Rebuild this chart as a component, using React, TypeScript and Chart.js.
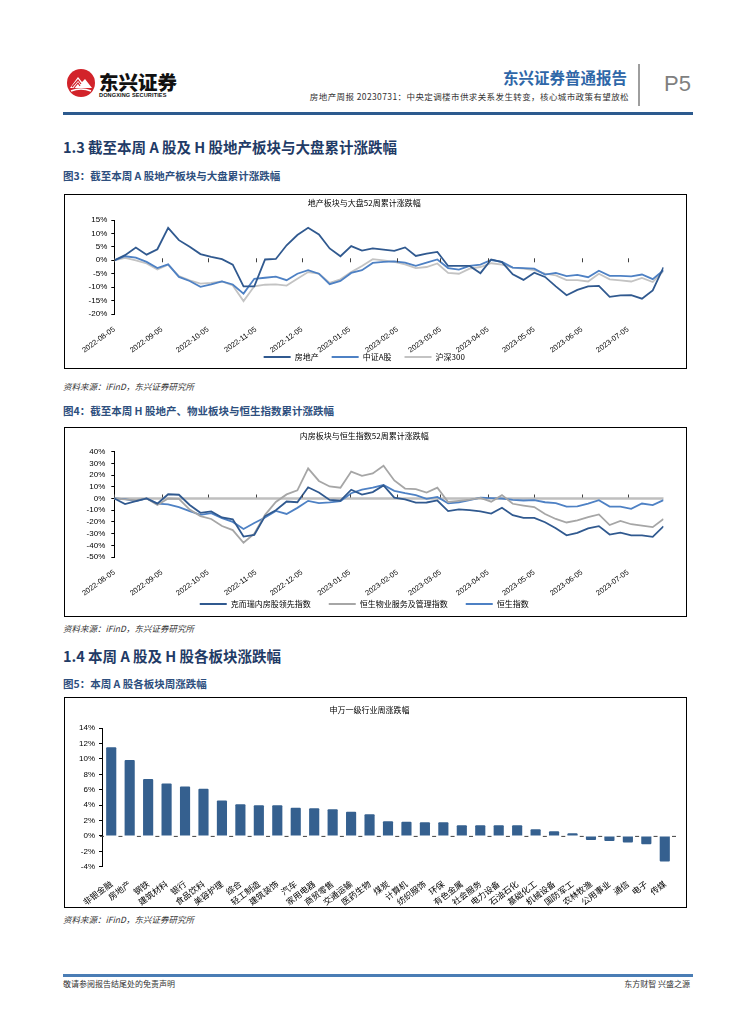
import React, { useEffect, useRef } from 'react';
import { Chart, registerables } from 'chart.js';

Chart.register(...registerables);

const CJK = '"Noto Sans CJK SC", "Noto Sans", sans-serif';
const LAT = '"Liberation Sans", Arial, sans-serif';

// ---------- shared x axis (weekly points, monthly tick labels) ----------
const monthTickDays = [0, 31, 61, 92, 122, 153, 184, 212, 243, 273, 304, 334];
const monthTickLabels = [
  '2022-08-05', '2022-09-05', '2022-10-05', '2022-11-05', '2022-12-05', '2023-01-05',
  '2023-02-05', '2023-03-05', '2023-04-05', '2023-05-05', '2023-06-05', '2023-07-05',
];
const lastDay = 357; // 2023-07-28

// ---------- chart 1: A-share (%, weekly cumulative) ----------
const realEstateA = [
  0, 1.9, 4.75, 2.1, 4.1, 12.1, 7.5, 5.0, 2.3, 1.3, 0.4, -1.6, -9.7, -9.7, 0.3, 0.5,
  5.6, 9.4, 12.1, 9.6, 4.4, 1.5, 5.3, 3.6, 4.4, 4.0, 3.5, 4.8, 1.6, 2.5, 3.1, -2.1,
  -2.1, -2.1, -4.8, 0.3, -0.7, -5.2, -7.3, -4.6, -6.2, -9.7, -13.0, -11.0, -9.7, -9.5,
  -13.6, -13.1, -13.0, -14.3, -11.2, -2.6,
];
const csiAShare = [
  0, 1.5, 1.0, -0.6, -2.9, -1.5, -6.2, -7.7, -9.9, -9.0, -7.9, -9.0, -12.4, -6.9, -6.5, -6.1,
  -7.4, -5.0, -3.7, -5.0, -8.9, -7.7, -4.7, -3.7, -1.0, -0.6, -0.4, -0.9, -2.1, -0.9, 0.3, -2.9,
  -3.5, -2.1, -1.6, 0.1, -0.6, -2.7, -2.9, -3.1, -5.3, -4.7, -5.9, -5.4, -6.3, -3.9,
  -5.8, -5.8, -6.0, -5.3, -7.0, -3.7,
];
const hs300 = [
  0, 0.9, 0, -1.2, -3.4, -1.6, -5.9, -7.5, -8.7, -8.4, -7.9, -9.4, -15.2, -9.7, -9.1, -9.0,
  -9.4, -6.9, -4.4, -5.0, -8.4, -7.1, -4.4, -2.1, 0.4, 0, -0.6, -1.5, -2.9, -2.5, -1.2, -4.7,
  -5.0, -3.1, -2.5, -1.1, -1.6, -2.7, -3.1, -3.7, -5.0, -5.6, -7.4, -7.4, -7.9, -5.0,
  -7.1, -7.5, -7.9, -6.6, -8.1, -4.0,
];
const chart1Y = [-20, -15, -10, -5, 0, 5, 10, 15];

// ---------- chart 2: H-share (%, weekly cumulative) ----------
const cricIndex = [
  0, -4.8, -2.3, 0, -4.4, 3.6, 3.2, -5.5, -12.2, -11.0, -16.2, -17.8, -32.5, -31.2, -15.0, -10.0,
  -2.6, -3.2, 9.6, 5.2, -1.2, -1.9, 7.5, 3.4, 5.5, 11.2, 0.8, -0.8, -3.5, -3.4, -1.7, -10.8,
  -9.3, -10.0, -11.0, -12.9, -7.9, -14.3, -16.6, -16.5, -20.3, -25.4, -31.5, -29.3, -25.5, -23.6,
  -30.8, -29.2, -31.5, -31.5, -32.8, -23.8,
];
const hsPropServices = [
  0, -0.8, -1.4, 0, -5.6, 0, -0.4, -9.5, -15.0, -17.5, -23.5, -27.0, -37.8, -30.0, -14.0, -3.0,
  3.5, 7.0, 25.8, 15.0, 10.3, 9.2, 23.0, 19.4, 21.4, 28.0, 15.4, 8.5, 8.0, 5.0, 9.3, -3.0,
  -2.0, -1.0, 0.5, -2.7, 2.9, -4.5, -6.0, -7.3, -13.2, -17.5, -20.5, -18.6, -16.0, -13.6,
  -22.7, -19.2, -22.0, -23.2, -24.5, -17.5,
];
const hangSeng = [
  0, -0.6, -2.3, 0, -4.3, -5.0, -7.4, -10.8, -14.0, -12.5, -16.8, -20.0, -26.0, -21.0, -16.2, -10.6,
  -13.2, -8.0, -2.0, -4.0, -3.4, -2.3, 4.5, 7.6, 9.2, 11.5, 6.6, 4.5, 2.9, -0.3, 1.4, -4.1,
  -3.2, -1.4, 0.7, 0.4, 0, -1.1, -1.7, -1.4, -3.2, -4.0, -7.0, -6.8, -4.3, -1.4,
  -6.9, -6.9, -8.9, -4.3, -5.7, -1.4,
];
const chart2Y = [-50, -40, -30, -20, -10, 0, 10, 20, 30, 40];

// ---------- chart 3: SW level-1 industries weekly change (%) ----------
const swIndustries = [
  '非银金融', '房地产', '钢铁', '建筑材料', '银行', '食品饮料', '美容护理', '综合', '轻工制造',
  '建筑装饰', '汽车', '家用电器', '商贸零售', '交通运输', '医药生物', '煤炭', '计算机', '纺织服饰',
  '环保', '有色金属', '社会服务', '电力设备', '石油石化', '基础化工', '机械设备', '国防军工',
  '农林牧渔', '公用事业', '通信', '电子', '传媒',
];
const swWeekly = [
  11.5, 9.85, 7.4, 6.8, 6.42, 6.12, 4.6, 4.1, 3.97, 3.97, 3.66, 3.58, 3.45, 3.15, 2.8, 1.9,
  1.85, 1.77, 1.77, 1.38, 1.38, 1.38, 1.38, 0.86, 0.6, 0.34, -0.52, -0.65, -0.86, -1.08, -3.32,
];
const chart3Y = [-4, -2, 0, 2, 4, 6, 8, 10, 12, 14];

const toWeekly = (vals: number[]) => vals.map((v, i) => ({ x: i * 7, y: v }));

// ---------- plugins ----------
function zeroAxisPlugin(kind: 'ticks' | 'line' | 'dashes') {
  return {
    id: 'zeroAxis',
    beforeDatasetsDraw(chart: any) {
      const { ctx, scales } = chart;
      const xs = scales.x;
      const y0 = scales.y.getPixelForValue(0);
      ctx.save();
      if (kind === 'line') {
        ctx.strokeStyle = '#BFBFBF';
        ctx.lineWidth = 2.5;
        ctx.beginPath();
        ctx.moveTo(xs.left, y0);
        ctx.lineTo(xs.right, y0);
        ctx.stroke();
      }
      if (kind === 'dashes') {
        const n = swIndustries.length;
        const w = (xs.right - xs.left) / n;
        ctx.strokeStyle = '#404040';
        ctx.lineWidth = 1;
        for (let i = 0; i <= n; i++) {
          const bx = xs.left + i * w;
          ctx.beginPath();
          ctx.moveTo(bx - 2, y0 + 0.5);
          ctx.lineTo(bx + 2, y0 + 0.5);
          ctx.stroke();
        }
      }
      ctx.restore();
    },
    afterDatasetsDraw(chart: any) {
      if (kind === 'dashes') return;
      const { ctx, scales } = chart;
      const xs = scales.x;
      const y0 = scales.y.getPixelForValue(0);
      ctx.save();
      ctx.strokeStyle = '#404040';
      ctx.lineWidth = 1;
      xs.ticks.forEach((t: any) => {
        const px = Math.round(xs.getPixelForValue(t.value)) + 0.5;
        ctx.beginPath();
        if (kind === 'line') {
          ctx.moveTo(px, y0 - 4);
          ctx.lineTo(px, y0 - 1);
        } else {
          ctx.moveTo(px, y0 - 2);
          ctx.lineTo(px, y0 + 2);
        }
        ctx.stroke();
      });
      ctx.restore();
    },
  };
}

// moves the legend so that its text row is centred at a given canvas y
function legendAt(centerY: number) {
  return {
    id: 'legendAt',
    afterLayout(chart: any) {
      const lg = chart.legend;
      if (!lg) return;
      const p = lg.options.labels.padding;
      const h = lg.bottom - lg.top;
      const top = centerY - p - 4;
      lg.top = top;
      lg.bottom = top + h;
    },
  };
}

type Series = { label: string; data: number[]; color: string; width: number };

function lineConfig(o: {
  title: string;
  series: Series[];
  yTicks: number[];
  yWidth: number;
  yPad: number;
  padRight: number;
  padBottom: number;
  titlePad: { top: number; bottom: number };
  xHeight: number;
  legendPad: number;
  legendY: number;
  zero: 'ticks' | 'line';
}): any {
  return {
    type: 'line',
    data: {
      datasets: o.series.map((s) => ({
        label: s.label,
        data: toWeekly(s.data),
        borderColor: s.color,
        backgroundColor: s.color,
        borderWidth: s.width,
        pointRadius: 0,
        tension: 0,
        fill: false,
      })),
    },
    options: {
      responsive: false,
      maintainAspectRatio: false,
      animation: false,
      events: [],
      layout: { padding: { left: 0, right: o.padRight, top: 0, bottom: o.padBottom } },
      plugins: {
        tooltip: { enabled: false },
        title: {
          display: true,
          text: o.title,
          color: '#000',
          font: { size: 8, family: CJK, weight: 'normal' },
          padding: o.titlePad,
        },
        legend: {
          display: true,
          position: 'bottom',
          labels: {
            usePointStyle: true,
            pointStyle: 'line',
            pointStyleWidth: 27,
            padding: o.legendPad,
            color: '#000',
            font: { size: 8, family: CJK },
          },
        },
      },
      scales: {
        x: {
          type: 'linear',
          min: 0,
          max: lastDay,
          afterBuildTicks: (s: any) => {
            s.ticks = monthTickDays.map((v) => ({ value: v }));
          },
          afterFit: (s: any) => {
            s.height = o.xHeight;
          },
          grid: { display: false },
          border: { display: false },
          ticks: {
            autoSkip: false,
            minRotation: 36,
            maxRotation: 36,
            padding: 3,
            color: '#000',
            font: { size: 7.5, family: LAT },
            callback: (_v: any, i: number) => monthTickLabels[i],
          },
        },
        y: {
          min: o.yTicks[0],
          max: o.yTicks[o.yTicks.length - 1],
          afterBuildTicks: (s: any) => {
            s.ticks = o.yTicks.map((v) => ({ value: v }));
          },
          afterFit: (s: any) => {
            s.width = o.yWidth;
          },
          grid: { display: true, drawOnChartArea: false, drawTicks: true, tickLength: 3, color: '#000' },
          border: { display: true, color: '#000', width: 1 },
          ticks: {
            autoSkip: false,
            padding: o.yPad,
            color: '#000',
            font: { size: 8, family: LAT },
            callback: (v: any) => `${v}%`,
          },
        },
      },
    },
    plugins: [zeroAxisPlugin(o.zero), legendAt(o.legendY)],
  };
}

function barConfig(): any {
  return {
    type: 'bar',
    data: {
      labels: swIndustries,
      datasets: [
        {
          label: '周涨跌幅',
          data: swWeekly,
          backgroundColor: '#35608F',
          borderWidth: 0,
          borderRadius: 1,
          barPercentage: 0.55,
          categoryPercentage: 1,
        },
      ],
    },
    options: {
      responsive: false,
      maintainAspectRatio: false,
      animation: false,
      events: [],
      layout: { padding: { left: 0, right: 12, top: 0, bottom: 0 } },
      plugins: {
        tooltip: { enabled: false },
        legend: { display: false },
        title: {
          display: true,
          text: '申万一级行业周涨跌幅',
          color: '#000',
          font: { size: 8, family: CJK, weight: 'normal' },
          padding: { top: 7, bottom: 13.5 },
        },
      },
      scales: {
        x: {
          afterFit: (s: any) => {
            s.height = 39.3;
          },
          grid: { display: false },
          border: { display: false },
          ticks: {
            autoSkip: false,
            minRotation: 37,
            maxRotation: 37,
            padding: 4,
            color: '#000',
            font: { size: 8.5, family: CJK },
          },
        },
        y: {
          min: chart3Y[0],
          max: chart3Y[chart3Y.length - 1],
          afterBuildTicks: (s: any) => {
            s.ticks = chart3Y.map((v) => ({ value: v }));
          },
          afterFit: (s: any) => {
            s.width = 37;
          },
          grid: { display: true, drawOnChartArea: false, drawTicks: true, tickLength: 3, color: '#000' },
          border: { display: true, color: '#000', width: 1 },
          ticks: {
            autoSkip: false,
            padding: 4,
            color: '#000',
            font: { size: 8, family: LAT },
            callback: (v: any) => `${v}%`,
          },
        },
      },
    },
    plugins: [zeroAxisPlugin('dashes')],
  };
}

function ChartCanvas({ make, width, height }: { make: () => any; width: number; height: number }) {
  const ref = useRef<HTMLCanvasElement>(null);
  useEffect(() => {
    const chart = new Chart(ref.current as HTMLCanvasElement, make());
    return () => chart.destroy();
  }, []);
  return <canvas ref={ref} width={width} height={height} style={{ display: 'block', width, height }} />;
}

const abs = (left: number, top: number, extra: any = {}): any => ({
  position: 'absolute',
  left,
  top,
  whiteSpace: 'nowrap',
  lineHeight: 1,
  ...extra,
});

function Box({ top, height, children }: { top: number; height: number; children: any }) {
  return (
    <div
      style={{
        position: 'absolute',
        left: 64,
        top,
        width: 621,
        height: height - 2,
        border: '1px solid #000',
        background: '#fff',
      }}
    >
      {children}
    </div>
  );
}

export default function App() {
  const heading = { fontFamily: CJK, fontWeight: 700, fontSize: 14.5, color: '#1F3B66' };
  const caption = { fontFamily: CJK, fontWeight: 700, fontSize: 10.5, color: '#2E4F7E' };
  const source = { fontFamily: CJK, fontStyle: 'italic', fontSize: 8.5, color: '#333' };

  return (
    <div style={{ position: 'absolute', left: 0, top: 0, width: 755, height: 1024, background: '#fff', overflow: 'hidden' }}>
      {/* header */}
      <svg width="30" height="30" viewBox="0 0 30 30" style={{ position: 'absolute', left: 66, top: 68 }}>
        <circle cx="15" cy="15" r="14" fill="#D2232A" />
        <path d="M4 20 L12 9 L16 14 L19 11 L26 20 Z" fill="#fff" />
        <path d="M6 19 L12 12 L15 16" stroke="#D2232A" strokeWidth="1.2" fill="none" />
        <path d="M8 20 L12 15 L14 18" stroke="#D2232A" strokeWidth="1.2" fill="none" />
        <path d="M5 23 Q15 19 25 23" stroke="#fff" strokeWidth="1.5" fill="none" />
      </svg>
      <div style={abs(99, 72, { fontFamily: CJK, fontWeight: 900, fontSize: 19.5, color: '#111', letterSpacing: 0 })}>东兴证券</div>
      <div style={abs(99, 93, { fontFamily: LAT, fontWeight: 700, fontSize: 5.6, color: '#111', letterSpacing: 0.1 })}>
        DONGXING SECURITIES
      </div>
      <div style={abs(503, 70, { fontFamily: CJK, fontWeight: 700, fontSize: 15.5, color: '#2F67A8' })}>东兴证券普通报告</div>
      <div style={abs(0, 92, { width: 629, textAlign: 'right', fontFamily: CJK, fontSize: 8.5, color: '#333', letterSpacing: 0.4 })}>
        房地产周报 20230731：中央定调楼市供求关系发生转变，核心城市政策有望放松
      </div>
      <div style={{ position: 'absolute', left: 638, top: 64, width: 2, height: 42, background: '#9E9E9E' }} />
      <div style={abs(664, 73, { fontFamily: LAT, fontSize: 22, color: '#7F7F7F' })}>P5</div>
      <div style={{ position: 'absolute', left: 63, top: 112, width: 630, height: 3, background: '#2C5A8E' }} />

      {/* section 1.3 */}
      <div style={abs(63, 140, heading)}>1.3 截至本周 A 股及 H 股地产板块与大盘累计涨跌幅</div>
      <div style={abs(63, 170.5, caption)}>图3：截至本周 A 股地产板块与大盘累计涨跌幅</div>
      <Box top={194} height={175}>
        <ChartCanvas
          width={621}
          height={172}
          make={() =>
            lineConfig({
              title: '地产板块与大盘52周累计涨跌幅',
              series: [
                { label: '房地产', data: realEstateA, color: '#30598F', width: 1.8 },
                { label: '中证A股', data: csiAShare, color: '#4E81C4', width: 1.8 },
                { label: '沪深300', data: hs300, color: '#C3C3C3', width: 1.8 },
              ],
              yTicks: chart1Y,
              yWidth: 49.3,
              yPad: 4,
              padRight: 22.5,
              padBottom: -24,
              titlePad: { top: 3, bottom: 12.4 },
              xHeight: 46,
              legendPad: 13,
              legendY: 162,
              zero: 'ticks',
            })
          }
        />
      </Box>
      <div style={abs(63, 381.5, source)}>资料来源：iFinD，东兴证券研究所</div>

      <div style={abs(63, 405.5, caption)}>图4：截至本周 H 股地产、物业板块与恒生指数累计涨跌幅</div>
      <Box top={427} height={190}>
        <ChartCanvas
          width={621}
          height={188}
          make={() =>
            lineConfig({
              title: '内房板块与恒生指数52周累计涨跌幅',
              series: [
                { label: '克而瑞内房股领先指数', data: cricIndex, color: '#30598F', width: 1.8 },
                { label: '恒生物业服务及管理指数', data: hsPropServices, color: '#A6A6A6', width: 1.8 },
                { label: '恒生指数', data: hangSeng, color: '#4E81C4', width: 1.8 },
              ],
              yTicks: chart2Y,
              yWidth: 49.3,
              yPad: 6,
              padRight: 22.5,
              padBottom: -23,
              titlePad: { top: 2.7, bottom: 11.4 },
              xHeight: 46,
              legendPad: 18,
              legendY: 176,
              zero: 'line',
            })
          }
        />
      </Box>
      <div style={abs(63, 623.5, source)}>资料来源：iFinD，东兴证券研究所</div>

      {/* section 1.4 */}
      <div style={abs(63, 649, heading)}>1.4 本周 A 股及 H 股各板块涨跌幅</div>
      <div style={abs(63, 678.5, caption)}>图5：本周 A 股各板块周涨跌幅</div>
      <Box top={697} height={211}>
        <ChartCanvas width={621} height={208} make={barConfig} />
      </Box>
      <div style={abs(63, 915, source)}>资料来源：iFinD，东兴证券研究所</div>

      {/* footer */}
      <div style={{ position: 'absolute', left: 63, top: 974, width: 630, height: 2.5, background: '#4A7DB5' }} />
      <div style={abs(63, 980, { fontFamily: CJK, fontSize: 8, color: '#333' })}>敬请参阅报告结尾处的免责声明</div>
      <div style={abs(0, 980, { width: 690, textAlign: 'right', fontFamily: CJK, fontSize: 8, color: '#333' })}>东方财智 兴盛之源</div>
    </div>
  );
}
